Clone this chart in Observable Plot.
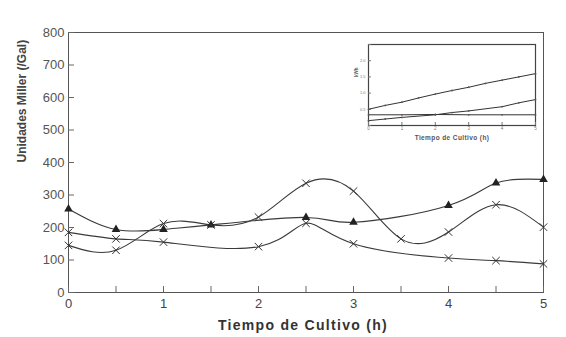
<!DOCTYPE html>
<html><head><meta charset="utf-8">
<script src="https://cdn.jsdelivr.net/npm/d3@7"></script>
<script src="https://cdn.jsdelivr.net/npm/@observablehq/plot@0.6"></script>
<style>
body{margin:0;background:#fff;}
#wrap{position:relative;width:566px;height:337px;}
#inset{position:absolute;left:352px;top:38px;}
svg{font-family:"Liberation Sans",Arial,sans-serif;}
.xlab text{letter-spacing:1.3px;}
.ixlab text{letter-spacing:0.4px;}
</style></head>
<body><div id="wrap"><div id="main"></div><div id="inset"></div></div>
<script>
// main series
const tTri = [0,0.5,1,1.5,2.5,3,4,4.5,5];
const vTri = [257,194,194,208,231,216,268,337,348];
const tB = [0,0.5,1,1.5,2,2.5,3,3.5,4,4.5,5];
const vB = [145,130,212,208,232,336,312,165,186,270,201];
const tC = [0,0.5,1,2,2.5,3,4,4.5,5];
const vC = [185,165,155,141,213,150,106,98,88];
const yTicks = [0,100,200,300,400,500,600,700,800];
const xTicks = [0,1,2,3,4,5];
const xMinor = [0.5,1.5,2.5,3.5,4.5];
// inset series
const itA = [0,0.5,1,1.5,2,2.5,3,3.5,4,4.5,5];
const ivA = [0.5,0.62,0.72,0.85,0.97,1.08,1.18,1.3,1.4,1.5,1.6];
const itB = [0,0.5,1,2,2.5,3,4,4.5,5];
const ivB = [0.15,0.2,0.25,0.33,0.4,0.45,0.58,0.7,0.8];
const itC = [0,1,2,3,4,5];
const ivC = [0.33,0.33,0.34,0.33,0.33,0.33];
const iyTicks = [0,0.5,1,1.5,2,2.5];
const iyLabels = [0.5,1,1.5,2];

const tri = tTri.map((t,i)=>({t,v:vTri[i]}));
const sB = tB.map((t,i)=>({t,v:vB[i]}));
const sC = tC.map((t,i)=>({t,v:vC[i]}));
const col = "#3a3a3a";
const fmt = d3.format("d");

const main = Plot.plot({
  width:566, height:337,
  marginLeft:68, marginRight:23, marginTop:32, marginBottom:45,
  x:{domain:[0,5]}, y:{domain:[0,800]},
  style:{fontFamily:"Liberation Sans, Arial, sans-serif"},
  marks:[
    Plot.frame({stroke:"#555"}),
    Plot.axisY({ticks:yTicks, tickSize:-6, tickPadding:10, fontSize:13, fill:"#555", stroke:"#666", label:null, tickFormat:fmt}),
    Plot.axisX({ticks:xTicks, tickSize:-6, tickPadding:12, fontSize:13, fill:"#444", stroke:"#666", label:null, tickFormat:fmt}),
    Plot.axisX({ticks:xMinor, tickSize:-6, tickFormat:()=> "", stroke:"#666", label:null}),
    Plot.line(tri,{x:"t",y:"v",curve:"natural",stroke:col,strokeWidth:1.1}),
    Plot.line(sB,{x:"t",y:"v",curve:"natural",stroke:col,strokeWidth:1.1}),
    Plot.line(sC,{x:"t",y:"v",curve:"natural",stroke:col,strokeWidth:1.1}),
    Plot.dot(tri,{x:"t",y:"v",symbol:"triangle",r:3.2,fill:"#222"}),
    Plot.dot(sB,{x:"t",y:"v",symbol:"times",r:3.5,stroke:"#333",strokeWidth:1}),
    Plot.dot(sC,{x:"t",y:"v",symbol:"times",r:3.5,stroke:"#333",strokeWidth:1}),
    Plot.text(["Tiempo de Cultivo (h)"],{frameAnchor:"bottom",dy:37,dx:-3,text:d=>d,fontSize:14,fontWeight:"bold",fill:"#333",className:"xlab"}),
    Plot.text(["Unidades Miller (/Gal)"],{frameAnchor:"left",dx:-46,dy:0,rotate:-90,text:d=>d,fontSize:12,fontWeight:"bold",fill:"#444"})
  ]
});
document.getElementById("main").appendChild(main);

const iA = itA.map((t,i)=>({t,v:ivA[i]}));
const iB = itB.map((t,i)=>({t,v:ivB[i]}));
const iC = itC.map((t,i)=>({t,v:ivC[i]}));
const inset = Plot.plot({
  width:190, height:108,
  marginLeft:16, marginRight:7, marginTop:6, marginBottom:21,
  x:{domain:[0,5]}, y:{domain:[0,2.5]},
  style:{background:"white", fontFamily:"Liberation Sans, Arial, sans-serif"},
  marks:[
    Plot.frame({stroke:"#444", strokeWidth:1.2}),
    Plot.axisY({ticks:iyTicks, tickSize:-3, tickFormat:()=> "", stroke:"#777", label:null}),
    Plot.axisY({ticks:iyLabels, tickSize:0, tickPadding:3, fontSize:4, fill:"#777", label:null}),
    Plot.axisX({ticks:xTicks, tickSize:-3, tickPadding:4, fontSize:4.5, fill:"#777", stroke:"#777", label:null, tickFormat:fmt}),
    Plot.line(iA,{x:"t",y:"v",stroke:"#333",strokeWidth:1}),
    Plot.line(iB,{x:"t",y:"v",stroke:"#333",strokeWidth:1}),
    Plot.line(iC,{x:"t",y:"v",stroke:"#333",strokeWidth:1}),
    Plot.dot(iA,{x:"t",y:"v",r:0.9,fill:"#555"}),
    Plot.dot(iB,{x:"t",y:"v",r:0.9,fill:"#555"}),
    Plot.dot(iC,{x:"t",y:"v",r:0.9,fill:"#555"}),
    Plot.text(["Tiempo de Cultivo (h)"],{frameAnchor:"bottom",dy:14,text:d=>d,fontSize:6.5,fontWeight:"bold",fill:"#555",className:"ixlab"}),
    Plot.text(["kWh"],{frameAnchor:"left",dx:-12,dy:-8,rotate:-90,text:d=>d,fontSize:4.5,fontWeight:"bold",fill:"#666"})
  ]
});
document.getElementById("inset").appendChild(inset);
</script></body></html>
